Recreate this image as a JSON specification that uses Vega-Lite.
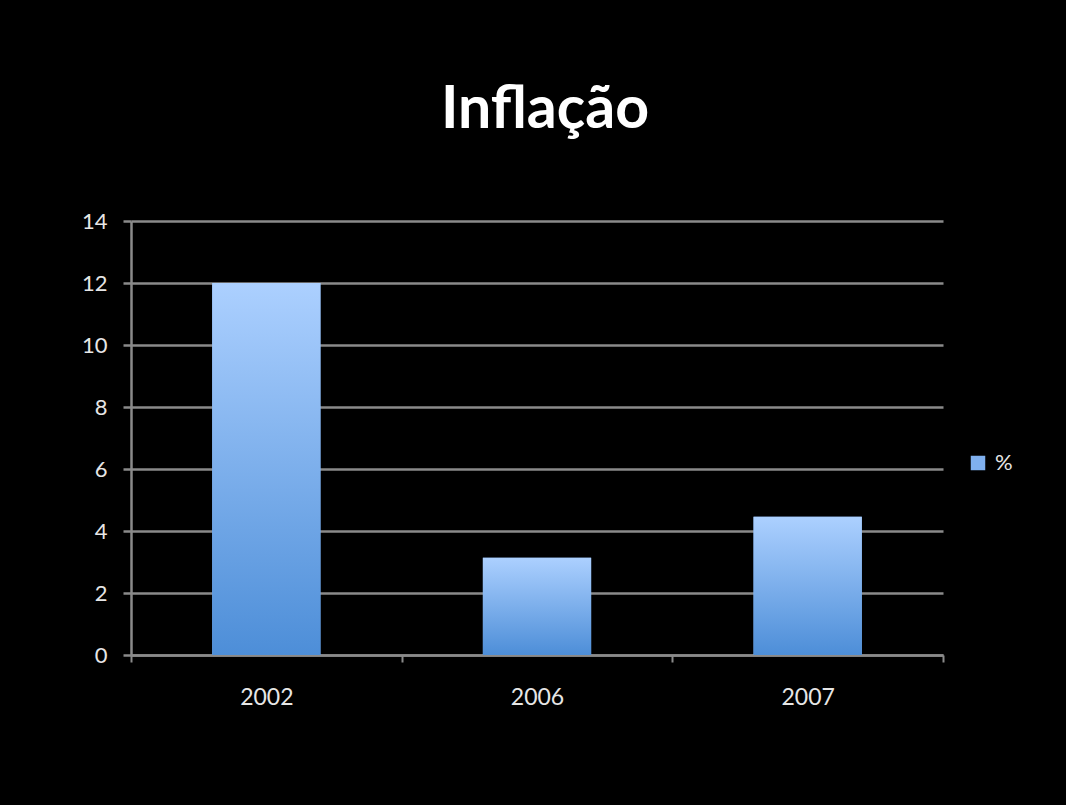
{
  "$schema": "https://vega.github.io/schema/vega-lite/v6.json",
  "width": 812,
  "height": 434,
  "autosize": {"type": "none"},
  "padding": {"left": 131, "top": 221, "right": 123, "bottom": 150},
  "background": "black",
  "config": {"view": {"stroke": null}},
  "title": {
    "text": "Inflação",
    "font": "Lato",
    "fontSize": 59,
    "fontWeight": "bold",
    "color": "white",
    "anchor": "middle",
    "frame": "group",
    "baseline": "alphabetic",
    "dx": 8,
    "offset": 23
  },
  "data": {
    "values": [
      {"ano": "2002", "serie": "%", "valor": 12},
      {"ano": "2006", "serie": "%", "valor": 3.14},
      {"ano": "2007", "serie": "%", "valor": 4.46}
    ]
  },
  "encoding": {
    "x": {
      "field": "ano",
      "type": "nominal",
      "scale": {"paddingInner": 0, "paddingOuter": 0},
      "axis": {
        "title": null,
        "labelAngle": 0,
        "tickBand": "extent",
        "domainColor": "#8a8a8a",
        "domainWidth": 2.5,
        "tickColor": "#8a8a8a",
        "tickWidth": 2,
        "tickSize": 7,
        "labelFont": "Lato",
        "labelFontSize": 23,
        "labelColor": "#e6e6e6",
        "labelPadding": 24
      }
    },
    "y": {
      "field": "valor",
      "type": "quantitative",
      "scale": {"domain": [0, 14], "nice": false},
      "axis": {
        "title": null,
        "values": [0, 2, 4, 6, 8, 10, 12, 14],
        "grid": true,
        "gridColor": "#8a8a8a",
        "gridWidth": 2.5,
        "domainColor": "#8a8a8a",
        "domainWidth": 2.5,
        "tickColor": "#8a8a8a",
        "tickWidth": 2.5,
        "tickSize": 8,
        "labelFont": "Lato",
        "labelFontSize": 22,
        "labelColor": "#e6e6e6",
        "labelPadding": 16
      }
    }
  },
  "layer": [
    {
      "mark": {"type": "bar", "width": {"band": 0.4}},
      "encoding": {
        "color": {
          "field": "serie",
          "type": "nominal",
          "scale": {"range": ["#7fb0ef"]},
          "legend": {
            "title": null,
            "orient": "none",
            "legendX": 836,
            "legendY": 231,
            "symbolType": "square",
            "symbolSize": 210,
            "symbolStrokeWidth": 0,
            "labelFont": "Lato",
            "labelFontSize": 22,
            "labelColor": "#e6e6e6",
            "labelOffset": 6,
            "encode": {
              "symbols": {
                "update": {
                  "fill": {"value": {"gradient": "linear", "x1": 0, "y1": 0, "x2": 0, "y2": 1, "stops": [{"offset": 0, "color": "#acd0ff"}, {"offset": 1, "color": "#4d8ed8"}]}}
                }
              }
            }
          }
        }
      }
    },
    {
      "mark": {
        "type": "bar",
        "width": {"band": 0.4},
        "color": {"gradient": "linear", "x1": 0, "y1": 0, "x2": 0, "y2": 1, "stops": [{"offset": 0, "color": "#acd0ff"}, {"offset": 1, "color": "#4d8ed8"}]}
      }
    }
  ]
}
